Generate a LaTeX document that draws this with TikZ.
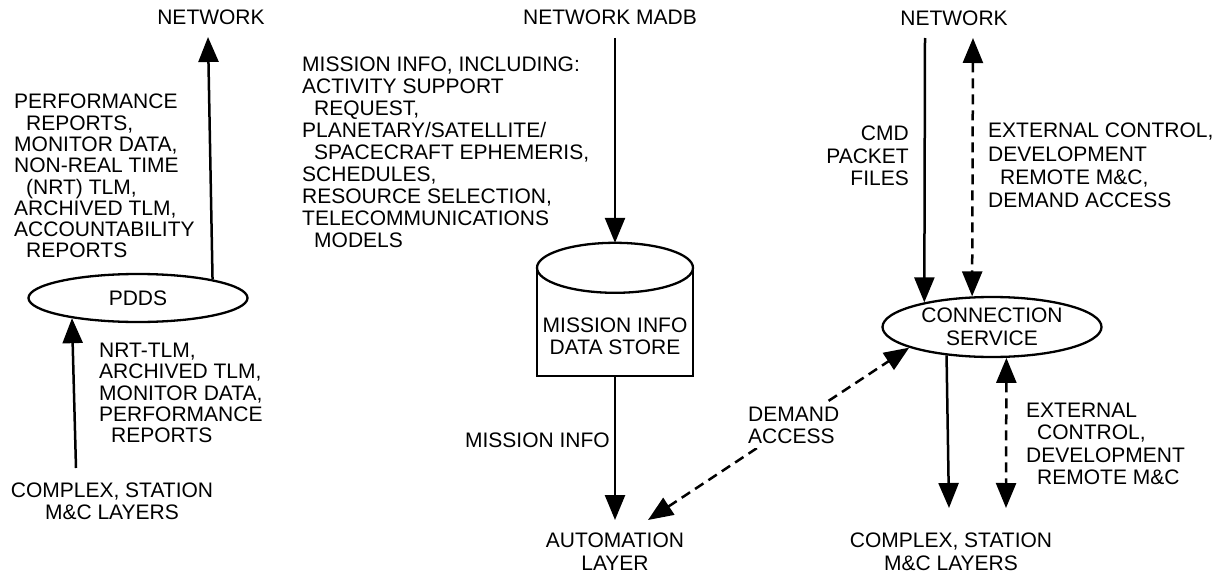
\documentclass[tikz,border=0pt]{standalone}
\usepackage{fontspec}
\setmainfont{Liberation Sans}
\usetikzlibrary{arrows.meta,shapes.geometric}

\begin{document}
\begin{tikzpicture}[x=1pt,y=-1pt,
  every node/.style={font=\fontsize{21}{22}\selectfont, inner sep=0pt},
  lbl/.style={align=left, anchor=north west},
  lblr/.style={align=right, anchor=north east},
  ctr/.style={align=center, anchor=north},
  oval/.style={draw, ellipse, line width=2.3pt},
  flow/.style={line width=2.5pt, -{Triangle[length=25pt,width=20pt]}},
  twoway/.style={line width=2.5pt, dash pattern=on 10pt off 6pt,
                 {Triangle[length=25pt,width=20pt]}-{Triangle[length=25pt,width=20pt]}},
]
\useasboundingbox (0,0) rectangle (1223,578);

% ---------------- left column: PDDS ----------------
\node[ctr] (net1) at (211,10) {NETWORK};
\node[oval, minimum width=219pt, minimum height=48pt] (pdds) at (138,298) {PDDS};
\coordinate (net1in) at (208,37);
\coordinate (cpx1out) at (76,468);
\draw[flow] (pdds.14.8) -- (net1in);
\draw[flow] (cpx1out) -- (pdds.197.7);

\node[lbl, font=\fontsize{21}{21.3}\selectfont] (pddsout) at (14,94) {PERFORMANCE\\
\hspace*{12pt}REPORTS,\\
MONITOR DATA,\\
NON-REAL TIME\\
\hspace*{12pt}(NRT) TLM,\\
ARCHIVED TLM,\\
ACCOUNTABILITY\\
\hspace*{12pt}REPORTS};

\node[lbl, font=\fontsize{21}{21.3}\selectfont] (pddsin) at (99,343) {NRT-TLM,\\
ARCHIVED TLM,\\
MONITOR DATA,\\
PERFORMANCE\\
\hspace*{12pt}REPORTS};

\node[ctr, font=\fontsize{21}{21.5}\selectfont] (cpx1) at (112,483) {COMPLEX, STATION\\M\&C LAYERS};

% ---------------- middle column: data store ----------------
\node[ctr] (madb) at (610,10) {NETWORK MADB};
\node[minimum width=156pt, minimum height=108pt] (store) at (615,322) {};
\draw[line width=2.3pt] (store.north west) -- (store.south west) -- (store.south east) -- (store.north east);
\draw[line width=2.3pt] (store.north) ellipse (78pt and 25pt);
\node[align=center, anchor=north] (storetxt) at (615,318) {MISSION INFO\\DATA STORE};
\coordinate (madbout) at (615,38);
\coordinate (storetop) at ([yshift=25pt]store.north);
\coordinate (autoin) at (615,520);
\draw[flow] (madbout) -- (storetop);
\draw[flow] (store.south) -- (autoin);

\node[lbl] (missinfo) at (302,57) {MISSION INFO, INCLUDING:\\
ACTIVITY SUPPORT\\
\hspace*{12pt}REQUEST,\\
PLANETARY/SATELLITE/\\
\hspace*{12pt}SPACECRAFT EPHEMERIS,\\
SCHEDULES,\\
RESOURCE SELECTION,\\
TELECOMMUNICATIONS\\
\hspace*{12pt}MODELS};

\node[anchor=north east] (misslbl) at (610,433) {MISSION INFO};
\node[ctr, font=\fontsize{21}{23}\selectfont] (auto) at (615,533) {AUTOMATION\\LAYER};

% ---------------- right column: connection service ----------------
\node[ctr] (net3) at (954,11) {NETWORK};
\node[oval, minimum width=219pt, minimum height=60pt, align=center,
      font=\fontsize{21}{22.5}\selectfont] (conn) at (992,327) {CONNECTION\\SERVICE};
\coordinate (net3out) at (925,38);
\coordinate (net3dash) at (973,38);
\coordinate (cpx3in) at (949,508);
\coordinate (cpx3dash) at (1006,508);
\coordinate (autodash) at (648,520);
\draw[flow] (net3out) -- (conn.160.5);
\draw[twoway] (net3dash) -- (conn.123.2);
\draw[flow] (conn.212.9) -- (cpx3in);
\draw[twoway] (conn.295.2) -- (cpx3dash);
\draw[twoway] (autodash) -- (conn.194.6);

\node[lblr, font=\fontsize{21}{22.5}\selectfont] (cmd) at (909,126) {CMD\\PACKET\\FILES};
\node[lbl, font=\fontsize{21}{23.2}\selectfont] (extup) at (988,123) {EXTERNAL CONTROL,\\
DEVELOPMENT\\
\hspace*{12pt}REMOTE M\&C,\\
DEMAND ACCESS};
\node[lbl, font=\fontsize{21}{22.2}\selectfont] (extdn) at (1026,403) {EXTERNAL\\
\hspace*{11pt}CONTROL,\\
DEVELOPMENT\\
\hspace*{11pt}REMOTE M\&C};
\node[lbl, fill=white, inner sep=4pt] (dalbl) at (744,403) {DEMAND\\ACCESS};

\node[ctr, font=\fontsize{21}{23}\selectfont] (cpx3) at (951,533) {COMPLEX, STATION\\M\&C LAYERS};
\end{tikzpicture}
\end{document}
